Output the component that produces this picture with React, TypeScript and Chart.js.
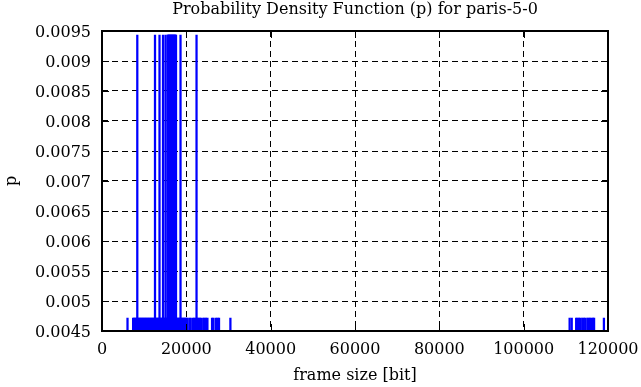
import React, { useEffect, useRef } from "react";
import { Chart, registerables } from "chart.js";

Chart.register(...registerables);

const titleText = "Probability Density Function (p) for paris-5-0";
const xAxisTitle = "frame size [bit]";
const yAxisTitle = "p";

const xTickValues = [0, 20000, 40000, 60000, 80000, 100000, 120000];
const xTickLabels = ["0", "20000", "40000", "60000", "80000", "100000", "120000"];
const yTickValues = [0.0045, 0.005, 0.0055, 0.006, 0.0065, 0.007, 0.0075, 0.008, 0.0085, 0.009, 0.0095];
const yTickLabels = ["0.0045", "0.005", "0.0055", "0.006", "0.0065", "0.007", "0.0075", "0.008", "0.0085", "0.009", "0.0095"];

// probability of a frame size seen once / twice
const pOnce = 0.004717;
const pTwice = 0.009434;

// frame sizes [bit] seen twice (tall impulses)
const tallFrameSizes = [
  8370, 12570, 13640, 14470, 15065, 15550, 15680, 15800, 15930, 16050, 16180,
  16300, 16430, 16550, 16680, 16800, 16930, 17050, 17180, 17300, 17430, 17550,
  18620, 22420,
];

// frame sizes [bit] seen once (short impulses)
const shortFrameSizes = [
  6050, 7380, 7600, 7850, 8100, 8320, 8590, 8820, 9060, 9300, 9550, 9780, 10030,
  10270, 10500, 10760, 10990, 11230, 11480, 11710, 11950, 12200, 12440, 12690,
  12920, 13170, 13400, 13650, 13890, 14130, 14380, 14610, 14850, 15100, 15340,
  15580, 15820, 16070, 16310, 16550, 16790, 17040, 17280, 17520, 17770, 18000,
  18250, 18490, 18730, 18980, 19220, 19460, 19700, 19950, 20170, 20700, 21050,
  21600, 21900, 22200, 22550, 22850, 23150, 23450, 24000, 24300, 24650, 25000,
  26100, 26450, 27050, 27400, 27750, 30450, 110900, 111400, 112450, 112750,
  113100, 113450, 113900, 114250, 114600, 115100, 115400, 115750, 116100,
  116450, 116700, 119030,
];

const FONT = "'DejaVu Serif', serif";

const framePlugin = {
  id: "frame",
  afterDatasetsDraw(chart: any) {
    const { ctx, chartArea, scales } = chart;
    const { left, top, right, bottom } = chartArea;
    ctx.save();
    ctx.strokeStyle = "#000";
    ctx.setLineDash([]);
    ctx.lineWidth = 1;
    const tl = 7;
    ctx.beginPath();
    scales.y.ticks.forEach((t: any) => {
      const y = Math.round(scales.y.getPixelForValue(t.value)) + 0.5;
      ctx.moveTo(left, y);
      ctx.lineTo(left + tl, y);
      ctx.moveTo(right, y);
      ctx.lineTo(right - tl, y);
    });
    scales.x.ticks.forEach((t: any) => {
      const x = Math.round(scales.x.getPixelForValue(t.value)) + 0.5;
      ctx.moveTo(x, bottom);
      ctx.lineTo(x, bottom - tl);
      ctx.moveTo(x, top);
      ctx.lineTo(x, top + tl);
    });
    ctx.stroke();
    ctx.lineWidth = 2;
    ctx.strokeRect(Math.round(left), Math.round(top), Math.round(right) - Math.round(left), Math.round(bottom) - Math.round(top));
    ctx.restore();
  },
};

export default function App() {
  const canvasRef = useRef<HTMLCanvasElement | null>(null);

  useEffect(() => {
    document.body.style.margin = "0";
    const canvas = canvasRef.current;
    if (!canvas) return;
    const data = [
      ...shortFrameSizes.map((x) => ({ x, y: pOnce })),
      ...tallFrameSizes.map((x) => ({ x, y: pTwice })),
    ];
    const chart = new Chart(canvas, {
      type: "bar",
      data: {
        datasets: [
          {
            data,
            backgroundColor: "#0000ff",
            borderWidth: 0,
            barThickness: 1.6,
            grouped: false,
          } as any,
        ],
      },
      options: {
        animation: false,
        responsive: true,
        maintainAspectRatio: false,
        devicePixelRatio: 1,
        layout: { padding: { left: 0, right: 33, top: 0, bottom: 0 } },
        plugins: {
          legend: { display: false },
          tooltip: { enabled: false },
          title: {
            display: true,
            text: titleText,
            fullSize: false,
            color: "#000",
            font: { family: FONT, size: 16, weight: "normal", lineHeight: 1.2 },
            padding: { top: 0, bottom: 11.8 },
          },
        },
        scales: {
          x: {
            type: "linear",
            min: 0,
            max: 120000,
            offset: false,
            afterBuildTicks: (scale: any) => {
              scale.ticks = xTickValues.map((v) => ({ value: v }));
            },
            afterFit: (scale: any) => {
              scale.height = 56;
              scale.paddingLeft = 0;
              scale.paddingRight = 0;
            },
            ticks: {
              autoSkip: false,
              maxRotation: 0,
              padding: 9,
              color: "#000",
              font: { family: FONT, size: 16 },
              callback: (_v: any, i: number) => xTickLabels[i],
            },
            grid: {
              offset: false,
              color: "#000",
              lineWidth: 1,
              drawTicks: false,
            },
            border: { display: false, dash: [6, 4] },
            title: {
              display: true,
              text: xAxisTitle,
              color: "#000",
              font: { family: FONT, size: 16, lineHeight: 1.2 },
              padding: { top: 0, bottom: 2 },
            },
          },
          y: {
            type: "linear",
            min: 0.0045,
            max: 0.0095,
            afterBuildTicks: (scale: any) => {
              scale.ticks = yTickValues.map((v) => ({ value: v }));
            },
            afterFit: (scale: any) => {
              scale.width = 102;
              scale.paddingTop = 0;
              scale.paddingBottom = 0;
            },
            ticks: {
              autoSkip: false,
              padding: 11,
              labelOffset: 2,
              color: "#000",
              font: { family: FONT, size: 16 },
              callback: (_v: any, i: number) => yTickLabels[i],
            },
            grid: {
              color: "#000",
              lineWidth: 1,
              drawTicks: false,
            },
            border: { display: false, dash: [6, 4] },
            title: {
              display: true,
              text: yAxisTitle,
              color: "#000",
              font: { family: FONT, size: 16, lineHeight: 1.2 },
              padding: { top: 2, bottom: 0 },
            },
          },
        },
      } as any,
      plugins: [framePlugin],
    });
    return () => chart.destroy();
  }, []);

  return (
    <div style={{ position: "relative", width: 641, height: 387 }}>
      <canvas ref={canvasRef} />
    </div>
  );
}
